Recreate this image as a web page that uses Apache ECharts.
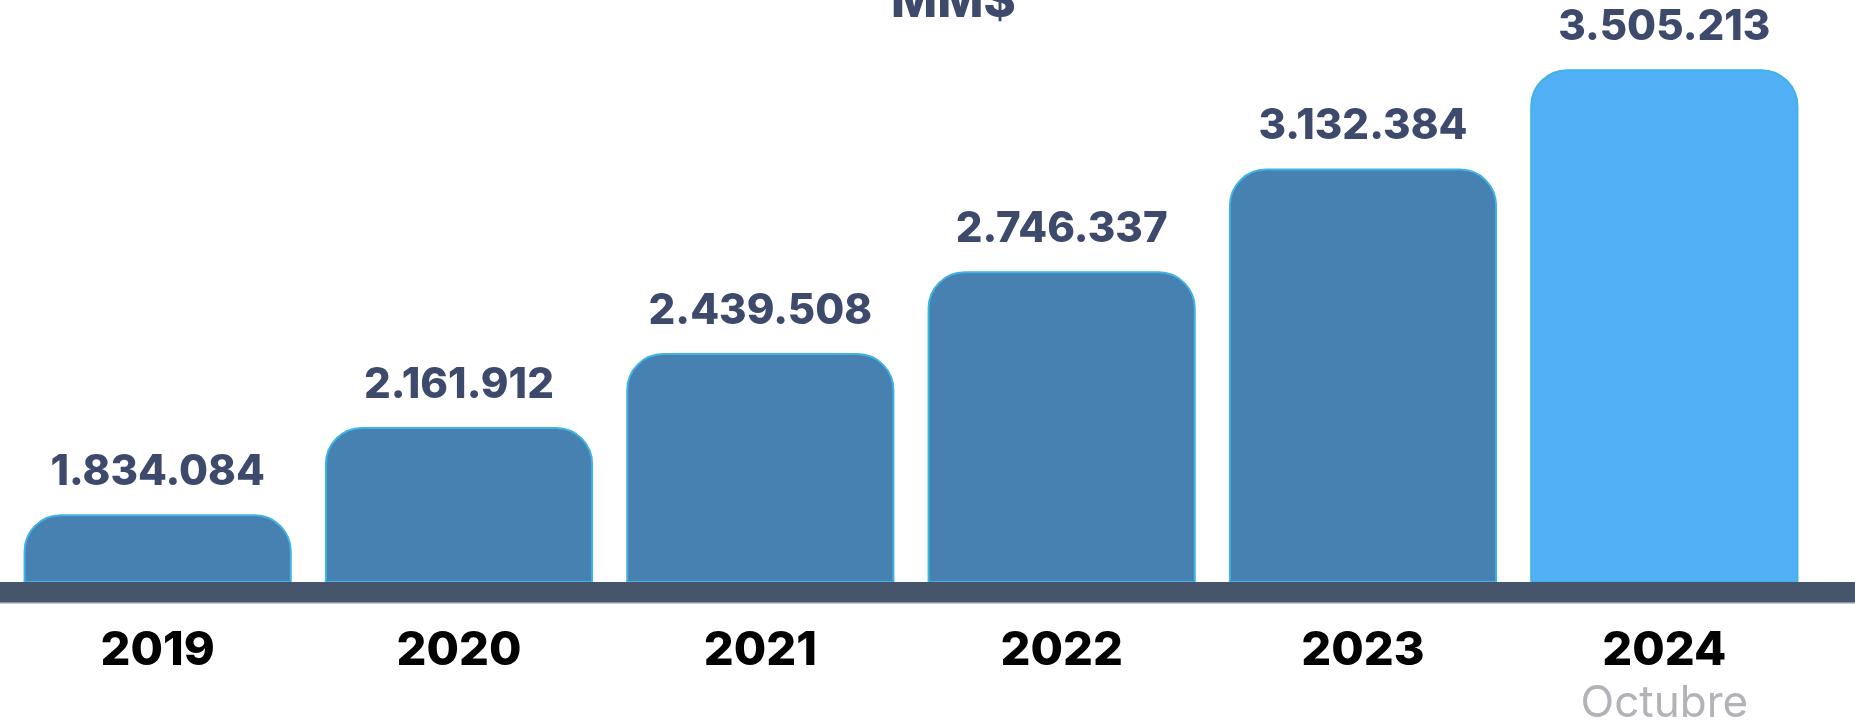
<!DOCTYPE html>
<html>
<head>
<meta charset="utf-8">
<script src="https://cdn.jsdelivr.net/npm/echarts@6/dist/echarts.min.js"></script>
<style>
  html, body { margin: 0; padding: 0; background: #fff; }
  #chart { width: 1855px; height: 724px; }
</style>
</head>
<body>
<div id="chart"></div>
<script>
const years = ['2019', '2020', '2021', '2022', '2023', '2024'];
const subLabels = ['', '', '', '', '', 'Octubre'];
const values = [1834084, 2161912, 2439508, 2746337, 3132384, 3505213];
const barColors = ['#4781b2', '#4781b2', '#4781b2', '#4781b2', '#4781b2', '#52b0f7'];

const fmt = v => String(v).replace(/\B(?=(\d{3})+(?!\d))/g, '.');

const chart = echarts.init(document.getElementById('chart'));

chart.setOption({
  animation: false,
  title: {
    text: 'MM$',
    left: 886,
    top: -27,
    textStyle: { fontFamily: 'Inter', fontWeight: 800, fontSize: 49, color: '#3d4a6c' }
  },
  grid: { left: 7, right: 40, top: 44, bottom: 142, outerBoundsMode: 'none', containLabel: false },
  xAxis: {
    type: 'category',
    data: years,
    axisLine: { show: false },
    axisTick: { show: false },
    axisLabel: {
      margin: 45,
      formatter: (v, i) => subLabels[i] ? `{year|${v}}\n{sub|${subLabels[i]}}` : `{year|${v}}`,
      rich: {
        year: { fontFamily: 'Inter', fontWeight: 800, fontSize: 47, lineHeight: 48, color: '#000' },
        sub: { fontFamily: 'Inter', fontWeight: 400, fontSize: 44, lineHeight: 58, color: '#b2b2b9' }
      }
    }
  },
  yAxis: {
    type: 'value',
    min: 1580000,
    max: 3600000,
    show: false,
    splitLine: { show: false }
  },
  series: [{
    type: 'bar',
    barCategoryGap: '11%',
    data: values.map((v, i) => ({
      value: v,
      itemStyle: { color: barColors[i] }
    })),
    itemStyle: {
      borderColor: '#3fb3e3',
      borderWidth: 2,
      borderRadius: [36, 36, 0, 0]
    },
    label: {
      show: true,
      position: 'top',
      distance: 21,
      formatter: p => fmt(p.value),
      fontFamily: 'Inter',
      fontWeight: 800,
      fontSize: 42,
      lineHeight: 42,
      color: '#3d4a6c'
    }
  }]
});

// dark base band under the bars, full width, placed at the axis baseline
const baseY = chart.convertToPixel({ yAxisIndex: 0 }, 1580000);
chart.setOption({
  graphic: [
    { type: 'rect', z: 100, shape: { x: 0, y: baseY, width: chart.getWidth(), height: 21 }, style: { fill: '#46556b' } },
    { type: 'rect', z: 100, shape: { x: 0, y: baseY + 20, width: chart.getWidth(), height: 1.5 }, style: { fill: '#8796ad' } }
  ]
});
</script>
</body>
</html>
